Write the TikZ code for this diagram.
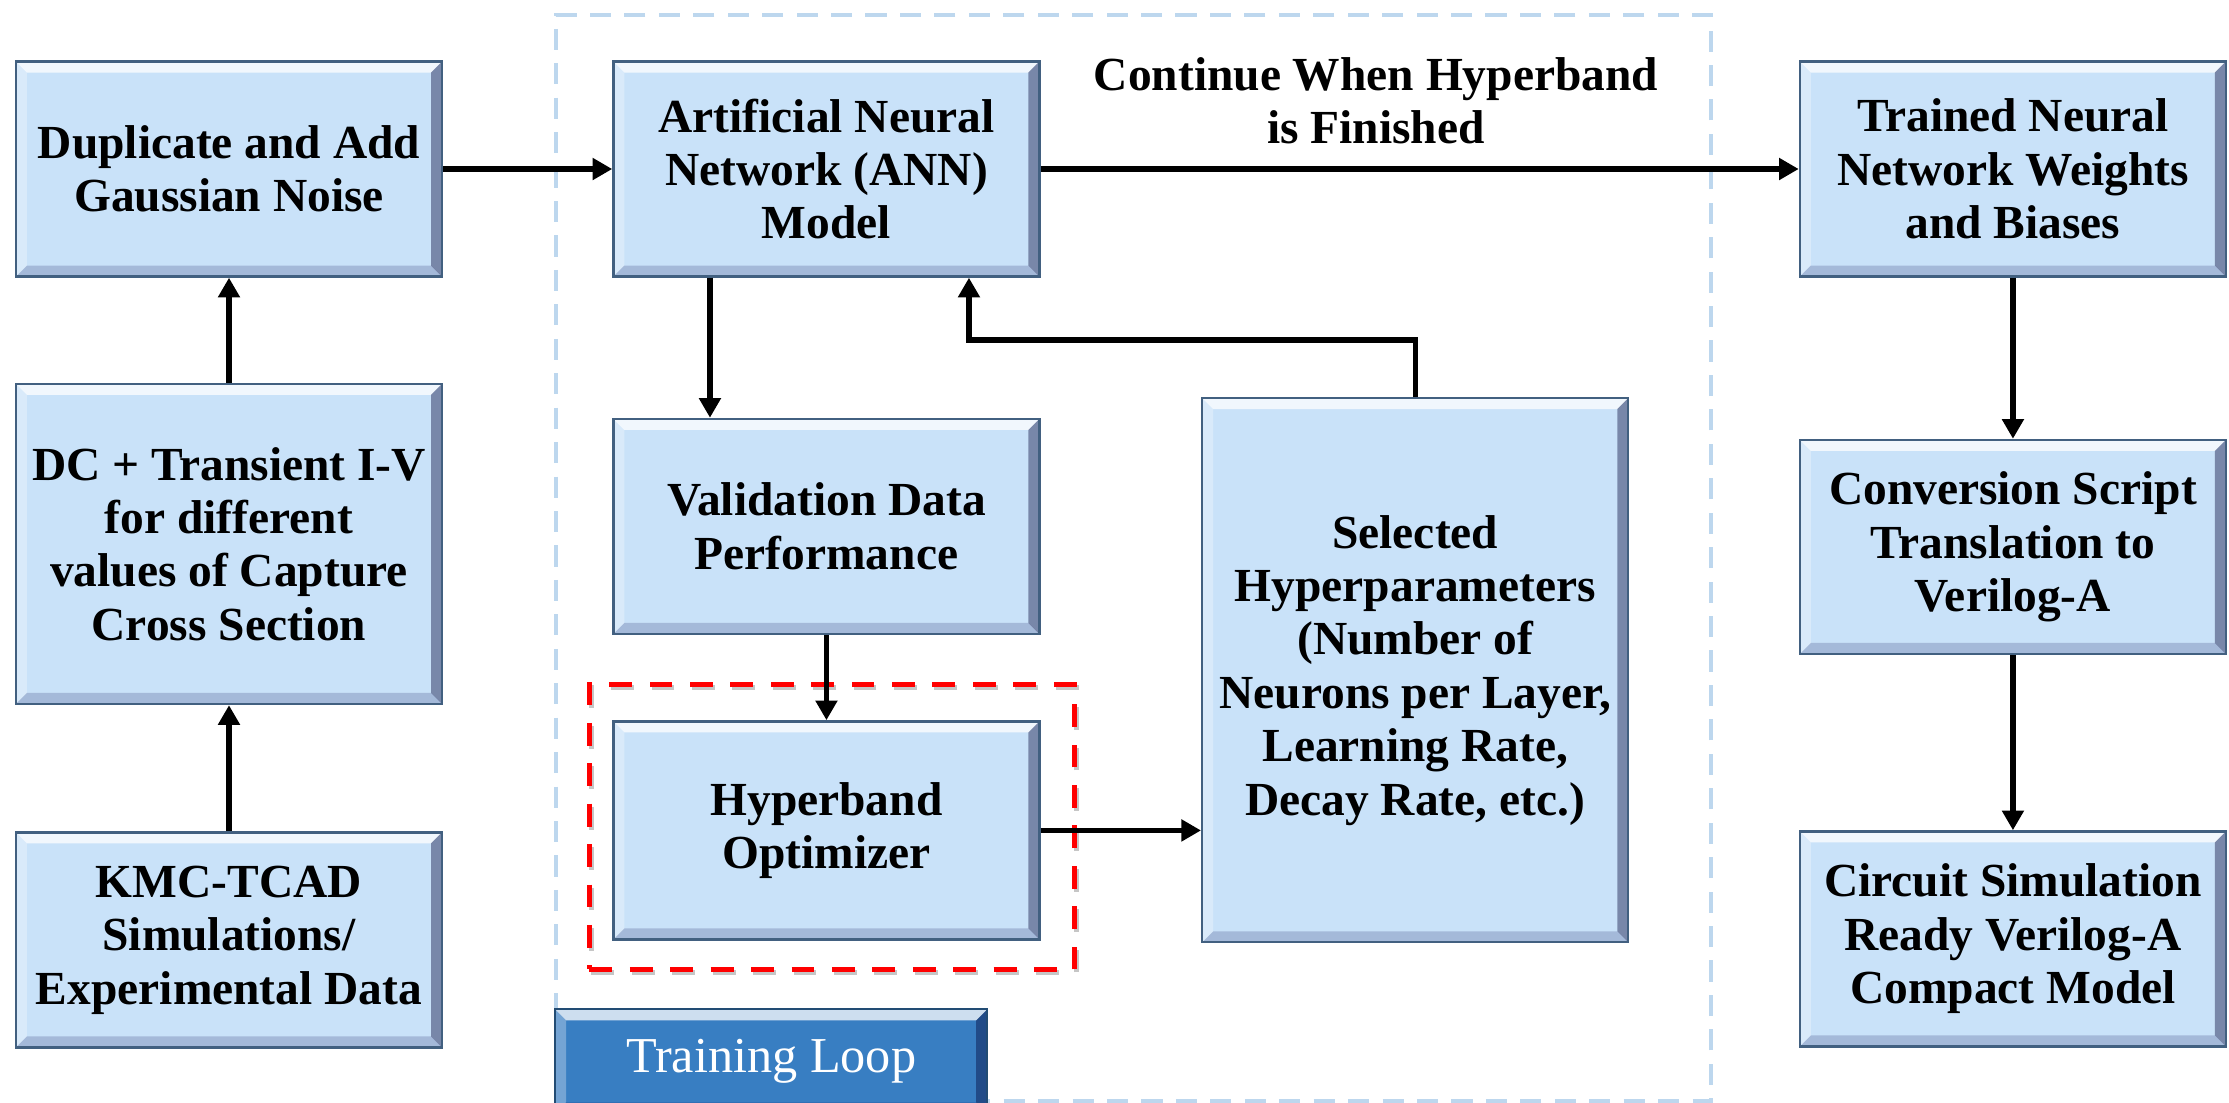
\documentclass[tikz,border=0pt]{standalone}
\usepackage{fontspec}
\setmainfont{Liberation Serif}
\usepackage{xcolor}
\usepackage{tikz}
\usetikzlibrary{positioning,arrows.meta}
\definecolor{boxfill}{RGB}{201,226,249}
\definecolor{boxline}{RGB}{66,96,128}
\definecolor{loopfill}{RGB}{56,126,194}
\definecolor{loopline}{RGB}{189,215,238}
\definecolor{hbred}{RGB}{255,0,0}
\tikzset{
  bevel/.style={path picture={
    \coordinate (pNW) at (path picture bounding box.north west);
    \coordinate (pNE) at (path picture bounding box.north east);
    \coordinate (pSW) at (path picture bounding box.south west);
    \coordinate (pSE) at (path picture bounding box.south east);
    \fill[white, opacity=.75] (pNW) -- (pNE) -- ([shift={(-#1,-#1)}]pNE) -- ([shift={(#1,-#1)}]pNW) -- cycle;
    \fill[white, opacity=.3] (pNW) -- (pSW) -- ([shift={(#1,#1)}]pSW) -- ([shift={(#1,-#1)}]pNW) -- cycle;
    \fill[black!80!blue, opacity=.4] (pNE) -- (pSE) -- ([shift={(-#1,#1)}]pSE) -- ([shift={(-#1,-#1)}]pNE) -- cycle;
    \fill[black!70!blue, opacity=.18] (pSW) -- (pSE) -- ([shift={(-#1,#1)}]pSE) -- ([shift={(#1,#1)}]pSW) -- cycle;
  }},
  box/.style={draw=boxline, line width=0.7pt, fill=boxfill, bevel=0.11, align=center,
    minimum width=4.26cm, minimum height=2.15cm, inner sep=2pt,
    font=\fontsize{13.5}{15.2}\selectfont\bfseries},
  flow/.style={-{Triangle[length=5.6pt,width=6pt]}, line width=1.5pt},
  lbl/.style={align=center, font=\fontsize{13.5}{15.2}\selectfont\bfseries},
}

\begin{document}
\begin{tikzpicture}[
  loopbox/.style={box, fill=loopfill, text=white, font=\fontsize{14.3}{16}\selectfont,
    minimum width=4.32cm, minimum height=1.04cm, draw=loopfill!60!black},
  frame/.style={draw=loopline, line width=1.1pt, dash pattern=on 6pt off 3.8pt,
    minimum width=11.55cm, minimum height=10.86cm, inner sep=0pt},
  hbframe/.style={draw=hbred, line width=1.4pt, dash pattern=on 6.5pt off 5pt,
    minimum width=4.85cm, minimum height=2.85cm, inner sep=0pt},
]
  \useasboundingbox (0,0) rectangle (22.29,-11.02);

  \node[frame, anchor=north west] (loopframe) at (5.54,-0.13) {};

  \node[box] (dup) at (2.29,-1.69) {Duplicate and Add\\Gaussian Noise};
  \node[box, minimum height=3.2cm, below=1.05cm of dup] (dc) {DC + Transient I-V\\for different\\values of Capture\\Cross Section};
  \node[box, below=1.26cm of dc] (kmc) {KMC-TCAD\\Simulations/\\Experimental Data};

  \node[box, right=1.69cm of dup] (ann) {Artificial Neural\\Network (ANN)\\Model};
  \node[box, below=1.40cm of ann] (val) {Validation Data\\Performance};
  \node[box, minimum height=2.18cm, below=0.85cm of val] (hyp) {Hyperband\\Optimizer};
  \node[hbframe, gray, opacity=.45, anchor=north west] (hbshadow) at (5.89,-6.85) {};
  \node[hbframe, anchor=north west] (hbbox) at (5.87,-6.82) {};

  \node[box, minimum height=5.44cm, anchor=north west] (sel) at (12.01,-3.97) {Selected\\Hyperparameters\\(Number of\\Neurons per Layer,\\Learning Rate,\\Decay Rate, etc.)};

  \node[box, right=7.58cm of ann] (trn) {Trained Neural\\Network Weights\\and Biases};
  \node[box, minimum height=2.14cm, below=1.61cm of trn] (conv) {Conversion Script\\Translation to\\Verilog-A};
  \node[box, below=1.75cm of conv] (circ) {Circuit Simulation\\Ready Verilog-A\\Compact Model};

  \node[lbl] (done) at (13.76,-1.01) {Continue When Hyperband\\is Finished};
  \node[loopbox, anchor=north west] (loop) at (5.54,-10.08) {Training Loop};

  \draw[flow] (kmc) -- (dc);
  \draw[flow] (dc) -- (dup);
  \draw[flow] (dup) -- (ann);
  \draw[flow] (ann) -- (trn);
  \draw[flow] ([xshift=-1.165cm]ann.south) -- ([xshift=-1.165cm]val.north);
  \draw[flow] (val) -- (hyp);
  \draw[flow] (hyp.east) -- (hyp.east -| sel.west);
  \draw[flow] (sel.north) -- ++(0,0.57) -| ([xshift=1.425cm]ann.south);
  \draw[flow] (trn) -- (conv);
  \draw[flow] (conv) -- (circ);
\end{tikzpicture}
\end{document}
